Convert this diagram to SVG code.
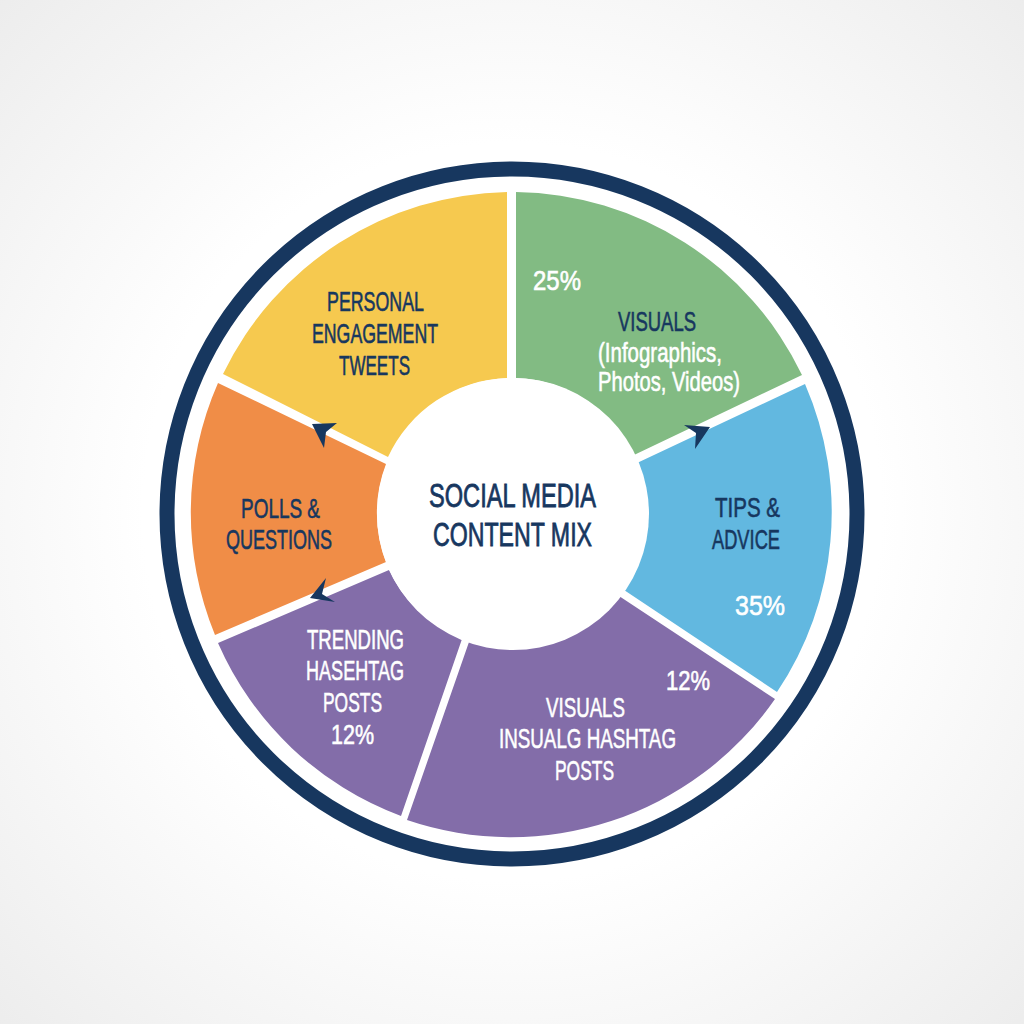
<svg xmlns="http://www.w3.org/2000/svg" width="1024" height="1024" viewBox="0 0 1024 1024">
<style>
text{font-family:"Liberation Sans Narrow","Liberation Sans",Arial,sans-serif;font-size:28px;text-anchor:start;font-weight:400;stroke-width:0.6px;}
.n{fill:#17375f;stroke:#17375f;}
.w{fill:#ffffff;stroke:#ffffff;}
.b{font-size:33px;stroke-width:0.8px;}
.arrow{fill:#17375f;}
</style>
<defs>
<radialGradient id="bg" cx="50%" cy="50%" r="72%">
<stop offset="0.5" stop-color="#ffffff"/>
<stop offset="1" stop-color="#ececec"/>
</radialGradient>
</defs>
<rect id="background" width="1024" height="1024" fill="url(#bg)"/>
<g id="ring"><circle cx="512" cy="514" r="345" fill="#ffffff" stroke="#17375f" stroke-width="15"/></g>

<g id="node-personal">
<path d="M223 374A322 322 0 0 1 507 192L507 378A136 136 0 0 0 388 457Z" fill="#f6c94f"/>
<text class="n" x="327" y="311" textLength="97" lengthAdjust="spacingAndGlyphs">PERSONAL</text>
<text class="n" x="312" y="343" textLength="126" lengthAdjust="spacingAndGlyphs">ENGAGEMENT</text>
<text class="n" x="339" y="375" textLength="71" lengthAdjust="spacingAndGlyphs">TWEETS</text>
</g>
<g id="node-visuals">
<path d="M516 192A322 322 0 0 1 802 375L634 455A136 136 0 0 0 516 378Z" fill="#82bb83"/>
<text class="w" x="533" y="290" textLength="48" lengthAdjust="spacingAndGlyphs">25%</text>
<text class="n" x="618" y="331" textLength="78" lengthAdjust="spacingAndGlyphs">VISUALS</text>
<text class="w" x="598" y="362" textLength="124" lengthAdjust="spacingAndGlyphs">(Infographics,</text>
<text class="w" x="598" y="391" textLength="142" lengthAdjust="spacingAndGlyphs">Photos, Videos)</text>
</g>
<g id="node-tips">
<path d="M805 384A322 322 0 0 1 777 692L624 590A136 136 0 0 0 637 463Z" fill="#62b8e0"/>
<text class="n" x="715" y="517" textLength="65" lengthAdjust="spacingAndGlyphs">TIPS &amp;</text>
<text class="n" x="712" y="549" textLength="68" lengthAdjust="spacingAndGlyphs">ADVICE</text>
<text class="w" x="735" y="615" textLength="50" lengthAdjust="spacingAndGlyphs">35%</text>
</g>
<g id="node-hashtag-posts">
<path d="M775 699A322 322 0 0 1 407 820L469 642A136 136 0 0 0 619 596Z" fill="#836da9"/>
<text class="w" x="666" y="690" textLength="44" lengthAdjust="spacingAndGlyphs">12%</text>
<text class="w" x="546" y="717" textLength="79" lengthAdjust="spacingAndGlyphs">VISUALS</text>
<text class="w" x="499" y="748" textLength="177" lengthAdjust="spacingAndGlyphs">INSUALG HASHTAG</text>
<text class="w" x="555" y="780" textLength="59" lengthAdjust="spacingAndGlyphs">POSTS</text>
</g>
<g id="node-trending">
<path d="M401 816A322 322 0 0 1 218 643L389 570A136 136 0 0 0 462 639Z" fill="#836da9"/>
<text class="w" x="307" y="649" textLength="97" lengthAdjust="spacingAndGlyphs">TRENDING</text>
<text class="w" x="306" y="680" textLength="98" lengthAdjust="spacingAndGlyphs">HASEHTAG</text>
<text class="w" x="323" y="712" textLength="59" lengthAdjust="spacingAndGlyphs">POSTS</text>
<text class="w" x="331" y="744" textLength="43" lengthAdjust="spacingAndGlyphs">12%</text>
</g>
<g id="node-polls">
<path d="M215 635A322 322 0 0 1 218 383L386 464A136 136 0 0 0 386 562Z" fill="#f08d47"/>
<text class="n" x="241" y="518" textLength="79" lengthAdjust="spacingAndGlyphs">POLLS &amp;</text>
<text class="n" x="226" y="549" textLength="106" lengthAdjust="spacingAndGlyphs">QUESTIONS</text>
</g>
<g id="node-center">
<circle cx="513" cy="514" r="136" fill="#ffffff"/>
<text class="n b" x="429" y="507" textLength="167" lengthAdjust="spacingAndGlyphs">SOCIAL MEDIA</text>
<text class="n b" x="433" y="546" textLength="159" lengthAdjust="spacingAndGlyphs">CONTENT MIX</text>
</g>
<g id="connectors">
<polygon class="arrow" points="312,424 337,423 326,432 324,448"/>
<polygon class="arrow" points="326,578 310,598 335,602 322,594"/>
<polygon class="arrow" points="684,425 710,427 695,449 696,433"/>
</g>
</svg>
